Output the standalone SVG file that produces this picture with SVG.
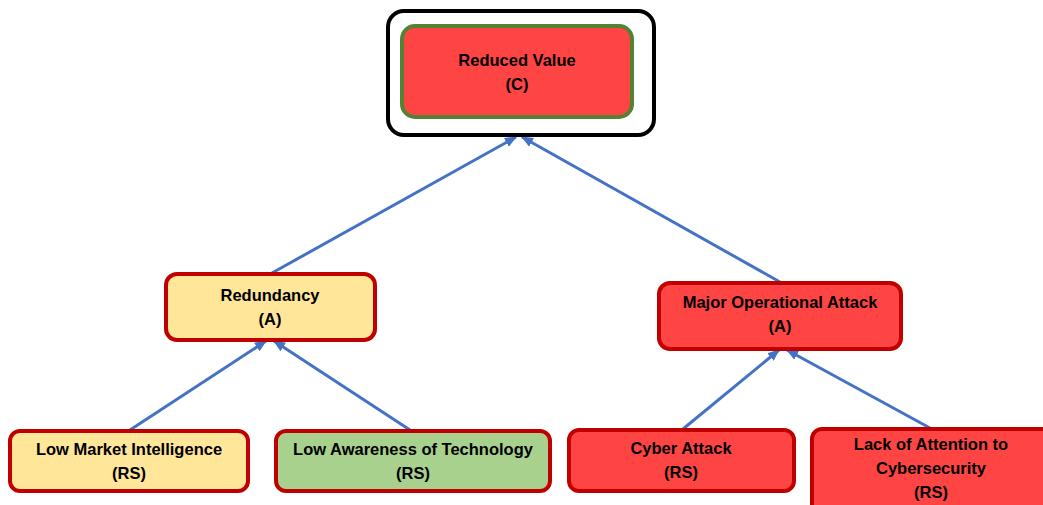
<svg xmlns="http://www.w3.org/2000/svg" width="1043" height="505" viewBox="0 0 1043 505">
<style>
text{font-family:"Liberation Sans",Arial,sans-serif;font-weight:bold;font-size:16.5px;fill:#000;text-anchor:middle}
.red{fill:#FF4444;stroke:#C00000;stroke-width:4}
.yel{fill:#FFE699;stroke:#C00000;stroke-width:4}
.grn{fill:#A9D18E;stroke:#C00000;stroke-width:4}
.conn line{stroke:#4472C4;stroke-width:3;marker-end:url(#ah)}
</style>
<defs>
<marker id="ah" markerUnits="userSpaceOnUse" markerWidth="12" markerHeight="12" viewBox="0 0 12 12" refX="11" refY="6" orient="auto">
<path d="M0,1 L12,6 L0,11 z" fill="#4472C4"/>
</marker>
</defs>
<rect width="1043" height="505" fill="#fff"/>
<g class="conn">
<line x1="272" y1="273" x2="516" y2="137"/>
<line x1="780" y1="282" x2="522" y2="137"/>
<line x1="130" y1="430" x2="266" y2="341"/>
<line x1="410" y1="430" x2="274" y2="341"/>
<line x1="683" y1="429" x2="779" y2="350"/>
<line x1="930" y1="428" x2="787" y2="350"/>
</g>
<g id="reduced-value">
<rect x="388" y="11" width="266" height="124" rx="16" fill="#fff" stroke="#000" stroke-width="4"/>
<rect x="402" y="26" width="230" height="91" rx="13" fill="#FF4444" stroke="#548235" stroke-width="4"/>
<text x="517" y="66">Reduced Value</text>
<text x="517" y="90">(C)</text>
</g>
<g id="redundancy">
<rect class="yel" x="166" y="274" width="209" height="66" rx="11"/>
<text x="270" y="301">Redundancy</text>
<text x="270" y="325">(A)</text>
</g>
<g id="major-operational-attack">
<rect class="red" x="659" y="283" width="242" height="66" rx="11"/>
<text x="780" y="308">Major Operational Attack</text>
<text x="780" y="332">(A)</text>
</g>
<g id="low-market-intelligence">
<rect class="yel" x="10" y="431" width="238" height="60" rx="10"/>
<text x="129" y="455">Low Market Intelligence</text>
<text x="129" y="479">(RS)</text>
</g>
<g id="low-awareness">
<rect class="grn" x="276" y="431" width="274" height="60" rx="10"/>
<text x="413" y="455">Low Awareness of Technology</text>
<text x="413" y="479">(RS)</text>
</g>
<g id="cyber-attack">
<rect class="red" x="569" y="430" width="225" height="61" rx="10"/>
<text x="681" y="454">Cyber Attack</text>
<text x="681" y="478">(RS)</text>
</g>
<g id="lack-of-attention">
<rect class="red" x="812" y="429" width="240" height="90" rx="10"/>
<text x="931" y="450">Lack of Attention to</text>
<text x="931" y="474">Cybersecurity</text>
<text x="931" y="498">(RS)</text>
</g>
</svg>
